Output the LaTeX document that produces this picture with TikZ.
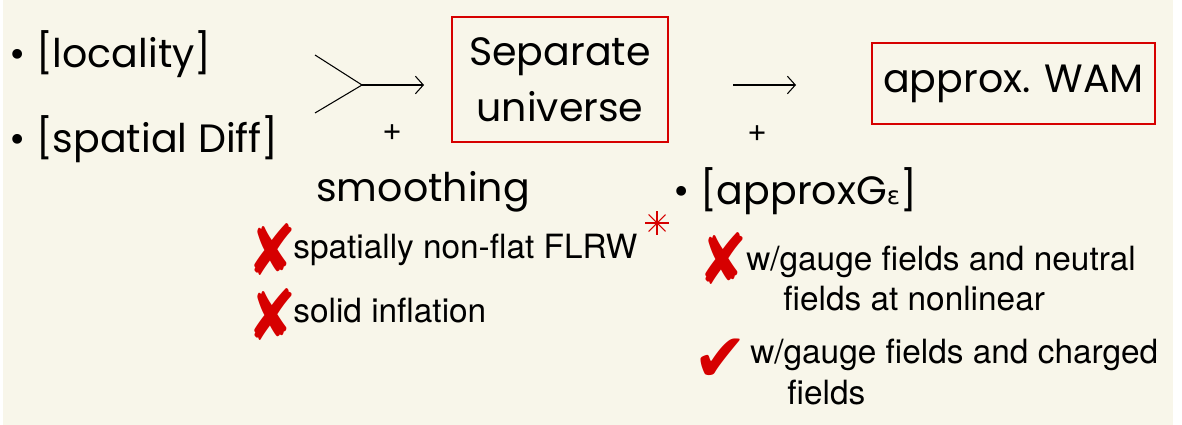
\documentclass[tikz,border=0pt]{standalone}
\usepackage{fontspec}
\setmainfont{TeX Gyre Heros}
\newfontfamily\handfont{Poppins}
\newfontfamily\symfont{DejaVu Sans}
\usetikzlibrary{arrows.meta,calc}
\definecolor{fundo}{RGB}{248,246,234}
\definecolor{vermelho}{RGB}{214,0,0}

\begin{document}
\begin{tikzpicture}[x=0.02cm, y=-0.02cm, >={Straight Barb[length=4.5pt,width=10pt]},
    hand/.style={font=\handfont\fontsize{22.5}{32}\selectfont, inner sep=0pt},
    plain/.style={font=\fontsize{19}{23.2}\selectfont, inner sep=0pt, anchor=base west, align=left},
    caixa/.style={hand, draw=vermelho, line width=1.2pt, align=center},
    marca/.style={text=vermelho, font=\symfont\fontsize{32}{32}\selectfont, inner sep=0pt}]
        % Fundo
        \fill[white] (0,0) rectangle (1182,425);
        \fill[fundo] (3,0) rectangle (1173,425);

        % Hipoteses
        \node[hand, anchor=base west] (loc) at (9,68) {\textbullet\ [locality]};
        \node[hand, anchor=base west] (diff) at (9,153) {\textbullet\ [spatial Diff]};

        % Caixas
        \node[caixa, minimum width=4.32cm, minimum height=2.5cm] (sep) at (560,79.5) {Separate\\universe};
        \node[caixa, minimum width=5.66cm, minimum height=1.62cm] (wam) at (1013.5,83.5) {approx. WAM};

        % Setas
        \coordinate (f1) at (315,55);
        \coordinate (f2) at (315,113);
        \coordinate (fork) at (362,85);
        \coordinate (tip1) at (424,85);
        \coordinate (tail2) at (733,85);
        \coordinate (tip2) at (796,85);
        \draw[line width=0.6pt] (f1) -- (fork) -- (f2);
        \draw[->, line width=0.6pt] (fork) -- (tip1);
        \draw[->, line width=0.6pt] (tail2) -- (tip2);

        \node[plain, anchor=center] (plus1) at (392,133) {+};
        \node[plain, anchor=center] (plus2) at (757,134) {+};

        \node[hand, anchor=base west] (smooth) at (316,202) {smoothing};
        \node[hand, anchor=base west] (appg) at (673,205) {\textbullet\ [approxG{\fontsize{14}{14}\selectfont\symfont ε}]};

        % Coluna esquerda
        \node[marca] (x1) at (272,250) {\scalebox{1.05}[1.25]{✘}};
        \node[plain] (t1) at (293,259) {spatially non-flat FLRW};
        \coordinate (ast) at (657,223);
        \foreach \a in {0,45,90,135}
            \draw[vermelho, line width=0.6pt] ($(ast)+(\a:12)$) -- ($(ast)+(\a+180:12)$);
        \node[marca] (x2) at (272,315) {\scalebox{1.05}[1.25]{✘}};
        \node[plain] (t2) at (293,322) {solid inflation};

        % Coluna direita
        \node[marca] (x3) at (723,259) {\scalebox{1.05}[1.25]{✘}};
        \node[plain] (t3) at (746,311) {w/gauge fields and neutral\\\hspace*{0.74cm}fields at nonlinear};
        \node[marca] (chk) at (721,360) {\scalebox{1.15}[1.2]{✔}};
        \node[plain] (t4) at (750,404) {w/gauge fields and charged\\\hspace*{0.74cm}fields};
    \end{tikzpicture}
\end{document}
